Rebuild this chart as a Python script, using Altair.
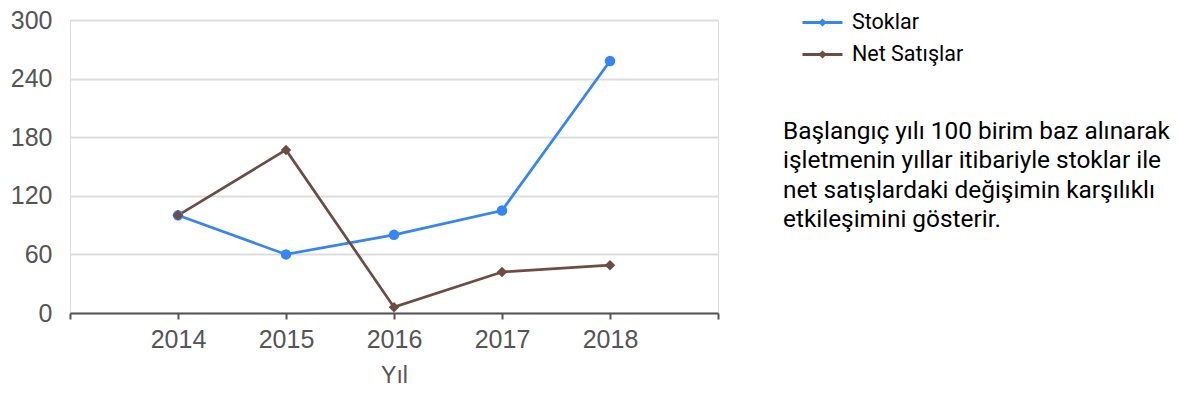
import altair as alt
import pandas as pd

years = [2014, 2015, 2016, 2017, 2018]
stoklar = [100, 60, 80, 105, 258]
net_satislar = [100, 167, 6, 42, 49]
series_names = ["Stoklar", "Net Satışlar"]
series_colors = ["#3585f4", "#6d4c41"]
series_shapes = ["circle", "diamond"]
tick_years = [2013, 2014, 2015, 2016, 2017, 2018, 2019]
y_ticks = [0, 60, 120, 180, 240, 300]
description = [
    "Başlangıç yılı 100 birim baz alınarak",
    "işletmenin yıllar itibariyle stoklar ile",
    "net satışlardaki değişimin karşılıklı",
    "etkileşimini gösterir.",
]

rows = []
for name, vals in zip(series_names, [stoklar, net_satislar]):
    for yr, v in zip(years, vals):
        rows.append({"Yıl": yr, "Değer": v, "Seri": name})
df = pd.DataFrame(rows)

AX_FONT = "Liberation Sans"

x = alt.X(
    "Yıl:Q",
    scale=alt.Scale(domain=[2013, 2019], nice=False, zero=False),
    axis=alt.Axis(
        values=tick_years,
        labelExpr="(datum.value == 2013 || datum.value == 2019) ? '' : datum.label",
        format="d",
        grid=False,
        domainColor="#555555",
        domainWidth=2,
        tickColor="#555555",
        tickWidth=2,
        tickSize=6,
        labelFontSize=25,
        labelColor="#555555",
        labelFont=AX_FONT,
        labelPadding=8,
        title="Yıl",
        titleFontSize=23,
        titleFont=AX_FONT,
        titleColor="#555555",
        titleFontWeight="normal",
        titlePadding=12,
    ),
)
y = alt.Y(
    "Değer:Q",
    scale=alt.Scale(domain=[0, 300], nice=False),
    axis=alt.Axis(
        values=y_ticks,
        domain=False,
        ticks=False,
        gridColor="#dddddd",
        gridWidth=2,
        labelFontSize=25,
        labelColor="#555555",
        labelFont=AX_FONT,
        labelPadding=18,
        title=None,
    ),
)
color = alt.Color(
    "Seri:N",
    scale=alt.Scale(domain=series_names, range=series_colors),
    legend=alt.Legend(
        title=None,
        orient="none",
        legendX=731,
        legendY=-19,
        symbolType="M-1,0H1M0,-0.1L0.1,0L0,0.1L-0.1,0Z",
        symbolSize=1600,
        symbolStrokeWidth=3,
        labelFontSize=21.5,
        labelFont="Roboto",
        labelColor="#000000",
        labelOffset=8,
        rowPadding=-9,
    ),
)

base = alt.Chart(df)
lines = base.mark_line(strokeWidth=2.7).encode(x=x, y=y, color=color)

point_layers = []
for name, col, shp in zip(series_names, series_colors, series_shapes):
    point_layers.append(
        base.transform_filter(alt.datum["Seri"] == name)
        .mark_point(filled=True, size=110, opacity=1, shape=shp, color=col)
        .encode(x=x, y=y)
    )

desc_df = pd.DataFrame({"t": ["\n".join(description)]})
desc = alt.Chart(desc_df).mark_text(
    align="left",
    baseline="top",
    font="Roboto",
    fontSize=24.4,
    lineHeight=29.4,
    color="#000000",
    lineBreak="\n",
).encode(x=alt.value(713), y=alt.value(100), text="t:N")

chart = (
    alt.layer(lines, *point_layers, desc)
    .properties(
        width=648,
        height=293,
        padding={"left": 62, "top": 12, "right": 455, "bottom": 73},
        autosize=alt.AutoSizeParams(type="none"),
    )
    .configure_view(stroke=None)
    .configure(background="#ffffff")
)

chart.save("out.html", embed_options={"renderer": "svg", "actions": False})
